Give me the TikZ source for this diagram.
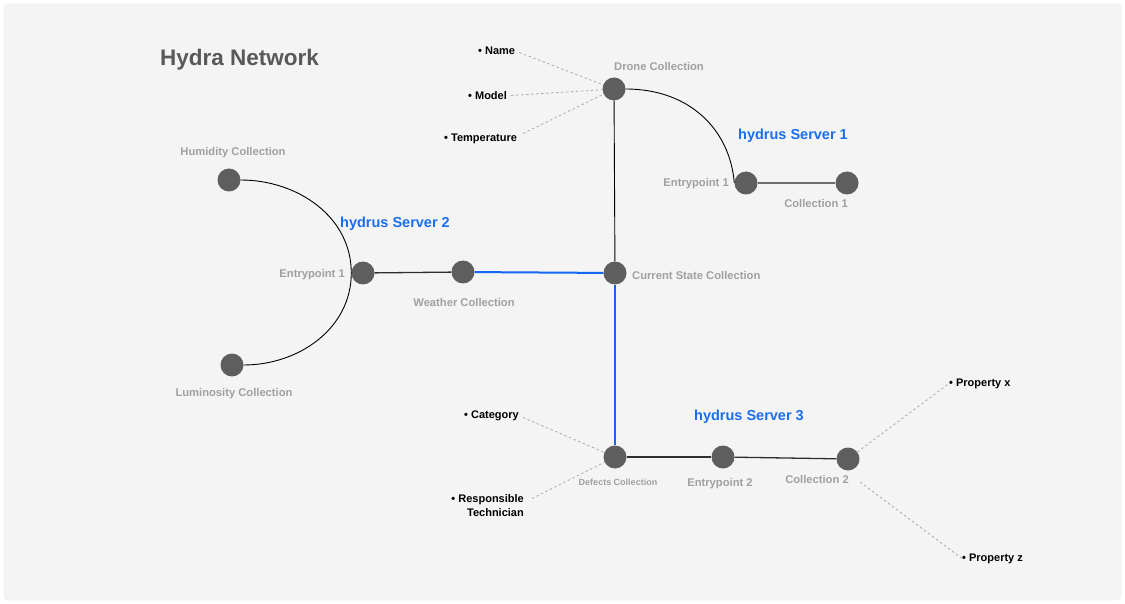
\documentclass[tikz,border=0pt]{standalone}
\usepackage{fontspec}
\setmainfont{Liberation Sans}
\begin{document}
\begin{tikzpicture}[x=1pt,y=-1pt,
  dot/.style={circle,fill=nodegray,minimum size=23pt,inner sep=0pt},
  txt/.style={inner sep=0pt,yshift=-1.5pt},
  lbl/.style={txt,text=lblgray,font=\bfseries\fontsize{11.2}{13}\selectfont},
  prop/.style={txt,text=black,font=\bfseries\fontsize{11}{13}\selectfont},
  srv/.style={txt,text=srvblue,font=\bfseries\fontsize{14.5}{17}\selectfont},
  thin/.style={draw=black,line width=0.9pt},
  mid/.style={draw=linedark,line width=1.3pt},
  bluel/.style={draw=lineblue,line width=2pt},
  grayl/.style={draw=nodegray!90,line width=2pt},
  dots/.style={draw=dotgray,line width=0.8pt,dash pattern=on 2.5pt off 2.5pt}]
\definecolor{nodegray}{HTML}{5E5E5E}
\definecolor{lblgray}{HTML}{A0A0A0}
\definecolor{srvblue}{HTML}{1A6EF0}
\definecolor{lineblue}{HTML}{1467F5}
\definecolor{linedark}{HTML}{2E2E2E}
\definecolor{dotgray}{HTML}{ABABAB}
\definecolor{cardgray}{HTML}{F4F4F4}
\useasboundingbox (0,0) rectangle (1125,604);
\fill[white] (0,0) rectangle (1125,604);
\fill[cardgray,draw=black!8,rounded corners=4pt] (4,4) rectangle (1121,600);

% title
\node[anchor=west,text=black!65,font=\bfseries\fontsize{22.5}{26}\selectfont,inner sep=0pt,yshift=-3pt] (title) at (160,57) {Hydra Network};

% nodes
\node[dot] (drone) at (614,89) {};
\node[dot] (ep1) at (746,183) {};
\node[dot] (col1) at (847,183) {};
\node[dot] (hum) at (229,180) {};
\node[dot] (ep2) at (363,273) {};
\node[dot] (weather) at (463,272) {};
\node[dot] (cur) at (615,273) {};
\node[dot] (lum) at (232,365) {};
\node[dot] (def) at (615,457) {};
\node[dot] (ep3) at (723,457) {};
\node[dot] (col2) at (848,459) {};

% labels
\node[lbl] (ldrone) at (659,65) {Drone Collection};
\node[lbl,anchor=east] (lep1) at (729,182) {Entrypoint 1};
\node[lbl] (lcol1) at (816,202) {Collection 1};
\node[lbl] (lhum) at (233,151) {Humidity Collection};
\node[lbl,anchor=east] (lep2) at (345,273) {Entrypoint 1};
\node[lbl] (lweather) at (464,301) {Weather Collection};
\node[lbl,anchor=west] (lcur) at (632,274) {Current State Collection};
\node[lbl] (llum) at (234,392) {Luminosity Collection};
\node[lbl,font=\bfseries\fontsize{9}{11}\selectfont] (ldef) at (618,481) {Defects Collection};
\node[lbl] (lep3) at (720,482) {Entrypoint 2};
\node[lbl] (lcol2) at (817,478) {Collection 2};

\node[srv] (s1) at (793,134) {hydrus Server 1};
\node[srv] (s2) at (395,222) {hydrus Server 2};
\node[srv] (s3) at (749,415) {hydrus Server 3};

% properties
\node[prop,anchor=west] (pname) at (478,49) {• Name};
\node[prop,anchor=west] (pmodel) at (468,94) {• Model};
\node[prop,anchor=west] (ptemp) at (444,137) {• Temperature};
\node[prop,anchor=west] (pcat) at (464,414) {• Category};
\node[prop,align=right,anchor=east,font=\bfseries\fontsize{11}{14}\selectfont] (presp) at (524,504) {• Responsible\\Technician};
\node[prop,anchor=west] (px) at (949,382) {• Property x};
\node[prop,anchor=west] (pz) at (962,557) {• Property z};

% connectors
\draw[thin] (drone.east) .. controls (690,89) and (730,130) .. (ep1.west);
\draw[grayl] (ep1) -- (col1);
\draw[thin] (drone) -- (cur);
\draw[thin] (hum.east) to[out=0,in=90] (ep2.west);
\draw[thin] (ep2.west) to[out=-90,in=0] (lum.east);
\draw[mid] (ep2) -- (weather);
\draw[bluel] (weather) -- (cur);
\draw[bluel] (cur) -- (def);
\draw[mid] (def) -- (ep3);
\draw[mid] (ep3) -- (col2);

% dotted property links
\draw[dots] (pname.east) ++(4,2) -- (drone);
\draw[dots] (pmodel.east) ++(4,0) -- (drone);
\draw[dots] (ptemp.east) ++(6,-5) -- (drone);
\draw[dots] (pcat.east) ++(4,2) -- (def);
\draw[dots] (presp.east) ++(8,-7) -- (def);
\coordinate (c2low) at (860,482);
\draw[dots] (col2) -- (px.west);
\draw[dots] (c2low) -- (pz.west);
\end{tikzpicture}
\end{document}
